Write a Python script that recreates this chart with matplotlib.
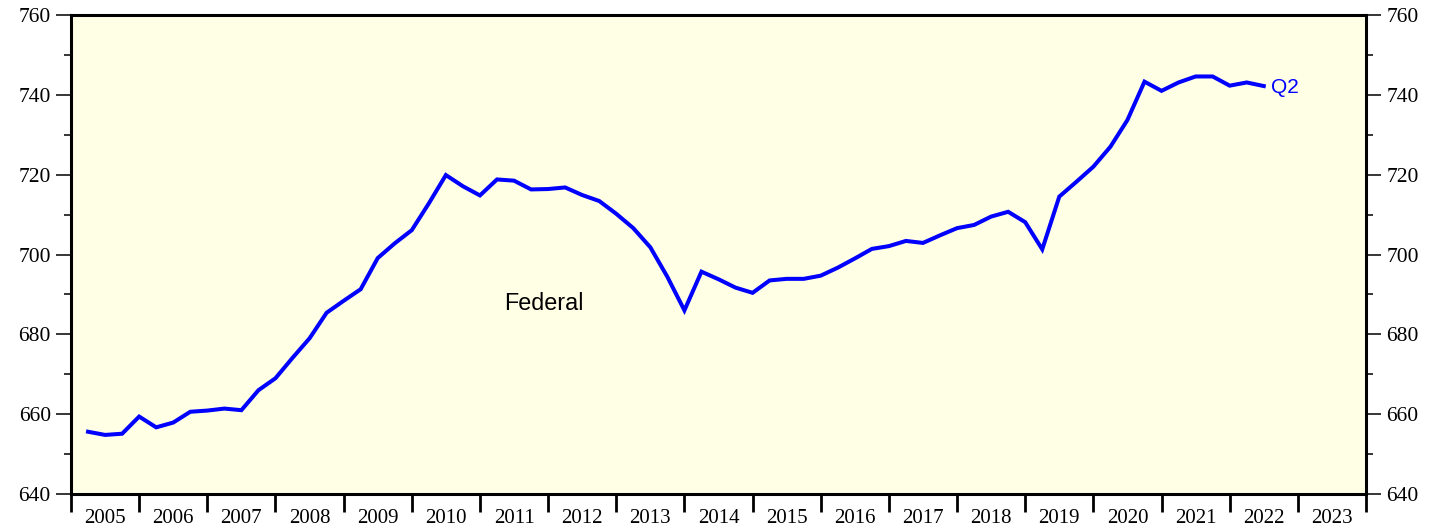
import matplotlib
matplotlib.use("Agg")
import matplotlib.pyplot as plt
import numpy as np
from matplotlib.ticker import MultipleLocator, FixedLocator, NullFormatter, FixedFormatter

# Quarterly data, 2005Q1 .. 2022Q2
start_year = 2005
values = [
    655.6, 654.8, 655.1, 659.4, 656.7, 657.9, 660.6, 660.9, 661.4, 661.0,
    666.0, 669.0, 674.1, 679.0, 685.4, 688.4, 691.3, 699.1, 702.8, 706.1,
    712.8, 719.9, 717.1, 714.8, 718.8, 718.5, 716.3, 716.4, 716.8, 714.9,
    713.4, 710.2, 706.6, 701.8, 694.4, 686.0, 695.7, 693.8, 691.7, 690.4,
    693.5, 693.9, 693.9, 694.7, 696.7, 699.0, 701.4, 702.1, 703.4, 702.9,
    704.8, 706.6, 707.4, 709.5, 710.7, 708.1, 701.3, 714.5, 718.2, 722.0,
    727.0, 733.7, 743.3, 741.0, 743.1, 744.6, 744.6, 742.3, 743.1, 742.2,
]
year_labels = [str(y) for y in range(2005, 2024)]
series_label = "Federal"
end_label = "Q2"

x = [start_year + (i + 1) / 4 for i in range(len(values))]

fig = plt.figure(figsize=(14.48, 5.29), dpi=100)
ax = fig.add_axes([71 / 1448, 1 - 494 / 529, (1366 - 71) / 1448, (494 - 15) / 529])
ax.set_facecolor("#ffffe6")

ax.plot(x, values, color="#0000ff", lw=2.9, solid_joinstyle="miter")

ax.set_xlim(2005, 2024)
ax.set_ylim(640, 760)

serif = "Liberation Serif"
fs = 15.5
# x ticks
ax.xaxis.set_major_locator(FixedLocator(list(range(2005, 2025))))
ax.xaxis.set_major_formatter(NullFormatter())
ax.xaxis.set_minor_locator(FixedLocator([y + 0.5 for y in range(2005, 2024)]))
ax.xaxis.set_minor_formatter(FixedFormatter(year_labels))
ax.tick_params(axis="x", which="major", direction="out", length=13, width=2.0, color="black")
ax.tick_params(axis="x", which="minor", length=0, pad=10.5, labelsize=15)
for lab in ax.get_xticklabels(minor=True):
    lab.set_fontfamily(serif)

# y ticks
ax.yaxis.set_major_locator(MultipleLocator(20))
ax.yaxis.set_minor_locator(MultipleLocator(10))
ax.tick_params(axis="y", which="major", direction="out", length=10.5, width=1.1,
               left=True, right=True, labelleft=True, labelright=True, pad=4, labelsize=fs)
ax.tick_params(axis="y", which="minor", direction="out", length=5, width=1.1,
               left=True, right=True)
for t in ax.yaxis.get_major_ticks():
    t.label2.set_fontfamily(serif)
    t.label1.set_fontfamily(serif)

for s in ax.spines.values():
    s.set_linewidth(2.2)
    s.set_color("black")

ax.text(2011.935, 687.6, series_label, fontsize=16.8, family="Liberation Sans",
        ha="center", va="center", color="black")
ax.text(x[-1] + 0.106, 741.8, end_label, fontsize=15, family="Liberation Sans",
        ha="left", va="center", color="#0000ff")

fig.savefig("out.png", dpi=100, facecolor="white")
